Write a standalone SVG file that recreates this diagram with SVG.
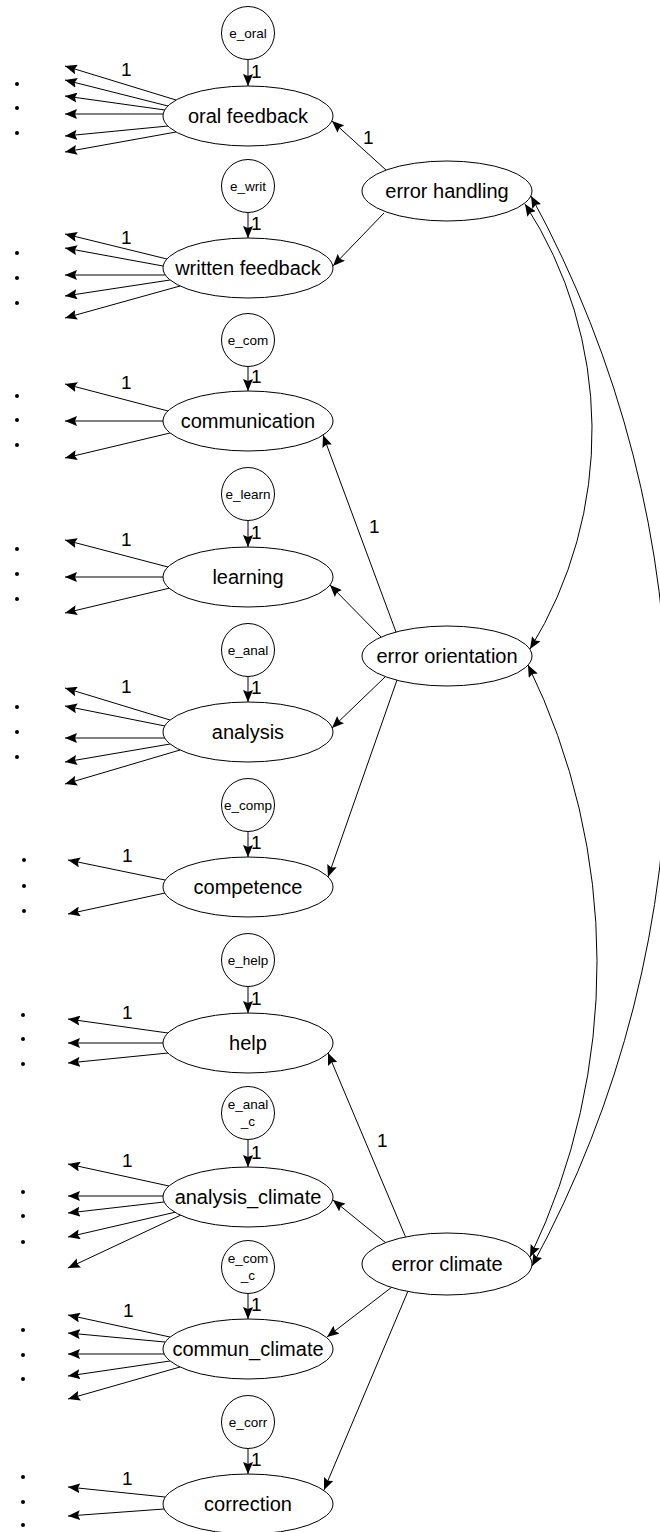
<svg xmlns="http://www.w3.org/2000/svg" width="660" height="1532" viewBox="0 0 660 1532">
<style>
.bg{fill:#fff}
.lat ellipse{fill:#fff;stroke:#000;stroke-width:1}
.err circle{fill:#fff;stroke:#000;stroke-width:1}
.lbl{font-family:"Liberation Sans",Arial,sans-serif;font-size:20px;fill:#000;text-anchor:middle}
.elbl{font-family:"Liberation Sans",Arial,sans-serif;font-size:13.5px;fill:#000;text-anchor:middle}
.one{font-family:"Liberation Sans",Arial,sans-serif;font-size:19px;fill:#000}
.c line,.c path{stroke:#000;stroke-width:1;fill:none;marker-end:url(#ah)}
.c path.cov{marker-start:url(#ah)}
.dot{fill:#000}
</style>
<defs>
<marker id="ah" viewBox="0 0 12 10" refX="12" refY="5" markerWidth="12" markerHeight="10" markerUnits="userSpaceOnUse" orient="auto-start-reverse">
<path d="M0,0 L12,5 L0,10 L2,5 z" fill="#000"/>
</marker>
</defs>
<rect class="bg" x="0" y="0" width="660" height="1532"/>

<g id="connectors" class="c">
<!-- error to latent -->
<line x1="248" y1="59.5" x2="248" y2="86"/>
<line x1="248" y1="212.5" x2="248" y2="238"/>
<line x1="248" y1="366.5" x2="248" y2="391"/>
<line x1="248" y1="520.5" x2="248" y2="547"/>
<line x1="248" y1="676.5" x2="248" y2="702"/>
<line x1="248" y1="831.5" x2="248" y2="857"/>
<line x1="248" y1="986.5" x2="248" y2="1013"/>
<line x1="248" y1="1139.5" x2="248" y2="1167"/>
<line x1="248" y1="1293.5" x2="248" y2="1319"/>
<line x1="248" y1="1448.5" x2="248" y2="1474"/>
<!-- indicators: oral feedback -->
<line x1="176" y1="100" x2="65" y2="66"/>
<line x1="168" y1="106" x2="65" y2="80"/>
<line x1="165" y1="110" x2="65" y2="96"/>
<line x1="163" y1="114" x2="65" y2="114"/>
<line x1="168" y1="126" x2="65" y2="136"/>
<line x1="176" y1="132" x2="65" y2="152"/>
<!-- written feedback -->
<line x1="167" y1="259" x2="65" y2="234"/>
<line x1="163" y1="266" x2="65" y2="248"/>
<line x1="165" y1="275" x2="65" y2="275"/>
<line x1="170" y1="280" x2="65" y2="296"/>
<line x1="180" y1="286" x2="65" y2="318"/>
<!-- communication -->
<line x1="168" y1="411" x2="65" y2="384"/>
<line x1="163" y1="421" x2="65" y2="421"/>
<line x1="170" y1="433" x2="65" y2="458"/>
<!-- learning -->
<line x1="168" y1="567" x2="65" y2="540"/>
<line x1="163" y1="577" x2="65" y2="577"/>
<line x1="170" y1="588" x2="65" y2="613"/>
<!-- analysis -->
<line x1="170" y1="720" x2="65" y2="688"/>
<line x1="165" y1="726" x2="65" y2="706"/>
<line x1="165" y1="738" x2="65" y2="738"/>
<line x1="170" y1="744" x2="65" y2="762"/>
<line x1="180" y1="750" x2="65" y2="784"/>
<!-- competence -->
<line x1="165" y1="880" x2="68" y2="860"/>
<line x1="165" y1="893" x2="68" y2="914"/>
<!-- help -->
<line x1="168" y1="1033" x2="68" y2="1019"/>
<line x1="163" y1="1043" x2="68" y2="1043"/>
<line x1="168" y1="1053" x2="68" y2="1063"/>
<!-- analysis_climate -->
<line x1="169" y1="1186" x2="68" y2="1164"/>
<line x1="163" y1="1196" x2="68" y2="1196"/>
<line x1="164" y1="1202" x2="68" y2="1213"/>
<line x1="176" y1="1212" x2="68" y2="1237"/>
<line x1="181" y1="1215" x2="68" y2="1268"/>
<!-- commun_climate -->
<line x1="170" y1="1337" x2="68" y2="1315"/>
<line x1="165" y1="1342" x2="68" y2="1333"/>
<line x1="164" y1="1354" x2="68" y2="1354"/>
<line x1="170" y1="1361" x2="68" y2="1376"/>
<line x1="180" y1="1367" x2="68" y2="1399"/>
<!-- correction -->
<line x1="165" y1="1497" x2="68" y2="1487"/>
<line x1="164" y1="1509" x2="68" y2="1516"/>
<!-- structural paths -->
<line x1="386" y1="170" x2="332" y2="121"/>
<line x1="384" y1="213" x2="333" y2="266"/>
<line x1="396" y1="632" x2="323" y2="435"/>
<line x1="381" y1="637" x2="330" y2="585"/>
<line x1="385" y1="677" x2="332" y2="728"/>
<line x1="397" y1="680" x2="328" y2="877"/>
<line x1="406" y1="1238" x2="328" y2="1053"/>
<line x1="386" y1="1243" x2="333" y2="1200"/>
<line x1="392" y1="1287" x2="327" y2="1337"/>
<line x1="408" y1="1291" x2="324" y2="1490"/>
<!-- covariances -->
<path class="cov" d="M525,204 A416,416 0 0 1 530,649"/>
<path class="cov" d="M531,196 A1117,1117 0 0 1 532,1266"/>
<path class="cov" d="M528,665 A678,678 0 0 1 530,1257"/>
</g>

<g id="dots">
<circle class="dot" cx="17" cy="84" r="2"/><circle class="dot" cx="17" cy="108" r="2"/><circle class="dot" cx="17" cy="133" r="2"/>
<circle class="dot" cx="17" cy="253" r="2"/><circle class="dot" cx="17" cy="278" r="2"/><circle class="dot" cx="17" cy="303" r="2"/>
<circle class="dot" cx="17" cy="396" r="2"/><circle class="dot" cx="17" cy="420" r="2"/><circle class="dot" cx="17" cy="445" r="2"/>
<circle class="dot" cx="17" cy="549" r="2"/><circle class="dot" cx="17" cy="574" r="2"/><circle class="dot" cx="17" cy="599" r="2"/>
<circle class="dot" cx="17" cy="707" r="2"/><circle class="dot" cx="17" cy="732" r="2"/><circle class="dot" cx="17" cy="757" r="2"/>
<circle class="dot" cx="24" cy="860" r="2"/><circle class="dot" cx="24" cy="886" r="2"/><circle class="dot" cx="24" cy="911" r="2"/>
<circle class="dot" cx="23" cy="1015" r="2"/><circle class="dot" cx="23" cy="1039" r="2"/><circle class="dot" cx="23" cy="1064" r="2"/>
<circle class="dot" cx="23" cy="1192" r="2"/><circle class="dot" cx="23" cy="1216" r="2"/><circle class="dot" cx="23" cy="1242" r="2"/>
<circle class="dot" cx="23" cy="1330" r="2"/><circle class="dot" cx="23" cy="1355" r="2"/><circle class="dot" cx="23" cy="1379" r="2"/>
<circle class="dot" cx="23" cy="1477" r="2"/><circle class="dot" cx="23" cy="1502" r="2"/><circle class="dot" cx="23" cy="1525" r="2"/>
</g>

<g id="weights">
<text class="one" x="121" y="76">1</text>
<text class="one" x="121" y="244">1</text>
<text class="one" x="121" y="389">1</text>
<text class="one" x="121" y="546">1</text>
<text class="one" x="121" y="693">1</text>
<text class="one" x="122" y="862">1</text>
<text class="one" x="122" y="1019">1</text>
<text class="one" x="122" y="1167">1</text>
<text class="one" x="123" y="1317">1</text>
<text class="one" x="122" y="1485">1</text>
<text class="one" x="251" y="78">1</text>
<text class="one" x="251" y="230">1</text>
<text class="one" x="251" y="383">1</text>
<text class="one" x="251" y="539">1</text>
<text class="one" x="251" y="694">1</text>
<text class="one" x="251" y="849">1</text>
<text class="one" x="251" y="1005">1</text>
<text class="one" x="251" y="1159">1</text>
<text class="one" x="251" y="1311">1</text>
<text class="one" x="251" y="1466">1</text>
<text class="one" x="363" y="144">1</text>
<text class="one" x="369" y="533">1</text>
<text class="one" x="377" y="1147">1</text>
</g>

<g id="e_oral" class="err"><circle cx="248" cy="33" r="26.5"/><text class="elbl" x="248" y="38">e_oral</text></g>
<g id="e_writ" class="err"><circle cx="248" cy="186" r="26.5"/><text class="elbl" x="248" y="191">e_writ</text></g>
<g id="e_com" class="err"><circle cx="248" cy="340" r="26.5"/><text class="elbl" x="248" y="345">e_com</text></g>
<g id="e_learn" class="err"><circle cx="248" cy="494" r="26.5"/><text class="elbl" x="248" y="499">e_learn</text></g>
<g id="e_anal" class="err"><circle cx="248" cy="650" r="26.5"/><text class="elbl" x="248" y="655">e_anal</text></g>
<g id="e_comp" class="err"><circle cx="248" cy="805" r="26.5"/><text class="elbl" x="248" y="810">e_comp</text></g>
<g id="e_help" class="err"><circle cx="248" cy="960" r="26.5"/><text class="elbl" x="248" y="965">e_help</text></g>
<g id="e_anal_c" class="err"><circle cx="248" cy="1113" r="26.5"/><text class="elbl" x="248" y="1109">e_anal</text><text class="elbl" x="248" y="1126">_c</text></g>
<g id="e_com_c" class="err"><circle cx="248" cy="1267" r="26.5"/><text class="elbl" x="248" y="1263">e_com</text><text class="elbl" x="248" y="1280">_c</text></g>
<g id="e_corr" class="err"><circle cx="248" cy="1422" r="26.5"/><text class="elbl" x="248" y="1427">e_corr</text></g>

<g id="oral_feedback" class="lat"><ellipse cx="248" cy="116" rx="85" ry="30"/><text class="lbl" x="248" y="123">oral feedback</text></g>
<g id="written_feedback" class="lat"><ellipse cx="248" cy="268" rx="85" ry="30"/><text class="lbl" x="248" y="275">written feedback</text></g>
<g id="communication" class="lat"><ellipse cx="248" cy="421" rx="85" ry="30"/><text class="lbl" x="248" y="428">communication</text></g>
<g id="learning" class="lat"><ellipse cx="248" cy="577" rx="85" ry="30"/><text class="lbl" x="248" y="584">learning</text></g>
<g id="analysis" class="lat"><ellipse cx="248" cy="732" rx="85" ry="30"/><text class="lbl" x="248" y="739">analysis</text></g>
<g id="competence" class="lat"><ellipse cx="248" cy="887" rx="85" ry="30"/><text class="lbl" x="248" y="894">competence</text></g>
<g id="help" class="lat"><ellipse cx="248" cy="1043" rx="85" ry="30"/><text class="lbl" x="248" y="1050">help</text></g>
<g id="analysis_climate" class="lat"><ellipse cx="248" cy="1197" rx="85" ry="30"/><text class="lbl" x="248" y="1204">analysis_climate</text></g>
<g id="commun_climate" class="lat"><ellipse cx="248" cy="1349" rx="85" ry="30"/><text class="lbl" x="248" y="1356">commun_climate</text></g>
<g id="correction" class="lat"><ellipse cx="248" cy="1504" rx="85" ry="30"/><text class="lbl" x="248" y="1511">correction</text></g>

<g id="error_handling" class="lat"><ellipse cx="447" cy="191" rx="85" ry="30"/><text class="lbl" x="447" y="198">error handling</text></g>
<g id="error_orientation" class="lat"><ellipse cx="447" cy="656" rx="85" ry="30"/><text class="lbl" x="447" y="663">error orientation</text></g>
<g id="error_climate" class="lat"><ellipse cx="447" cy="1264" rx="85" ry="31"/><text class="lbl" x="447" y="1271">error climate</text></g>
</svg>
